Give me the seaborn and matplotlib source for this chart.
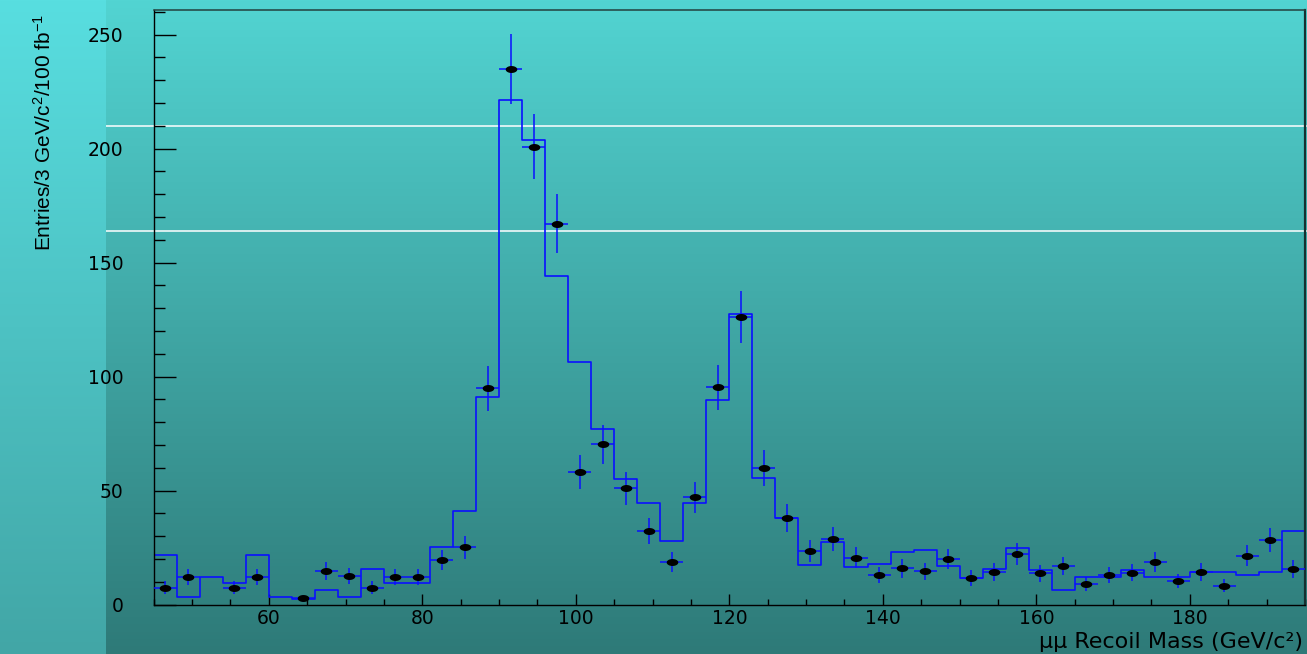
import numpy as np
import pandas as pd
import matplotlib
matplotlib.use("Agg")
import matplotlib.pyplot as plt
from matplotlib.path import Path
from matplotlib.ticker import MultipleLocator
import seaborn as sns

# Binning: 3 GeV bins from 45 to 195 GeV
bin_edges = np.arange(45, 196, 3)
bin_centers = bin_edges[:-1] + 1.5

# Expected (simulated) recoil mass distribution, entries per bin
mc_entries = [
    21.6, 3.2, 12.3, 9.4, 21.6, 3.5, 2.7, 6.6, 3.2, 15.5,
    9.4, 9.4, 25.3, 41.0, 91.1, 221.3, 203.7, 144.0, 106.3, 76.9,
    55.3, 44.6, 27.8, 44.6, 89.6, 127.4, 55.6, 37.9, 17.4, 27.5,
    16.4, 17.7, 23.1, 23.8, 17.0, 11.6, 15.7, 24.7, 15.1, 6.6,
    12.3, 12.1, 15.1, 12.0, 12.0, 14.2, 14.2, 12.9, 14.2, 32.2,
]

# Pseudo-data entries per bin (empty bins are not drawn)
data_entries = [
    7.5, 12.3, None, 7.5, 12.3, None, 2.8, 14.8, 12.6, 7.5,
    12.3, 12.3, 19.5, 25.2, 94.9, 234.8, 200.9, 167.0, 58.2, 70.3,
    51.0, 32.3, 18.7, 47.1, 95.3, 126.2, 60.0, 38.2, 23.4, 28.7,
    20.6, 12.9, 15.9, 14.6, 20.0, 11.8, 14.3, 22.2, 13.9, 17.0,
    9.2, 12.9, 14.0, 18.7, 10.4, 14.3, 8.3, 21.4, 28.4, 15.5,
]

x_label = "μμ Recoil Mass (GeV/c²)"
y_label = "Entries/3 GeV/c$^{2}$/100 fb$^{-1}$"

data = np.array([np.nan if v is None else v for v in data_entries], dtype=float)
data_err = np.sqrt(data)
mc_df = pd.DataFrame({"mass": bin_centers, "entries": mc_entries})

plt.rcParams["mathtext.default"] = "regular"

W, H = 1307, 654
fig = plt.figure(figsize=(W / 100, H / 100), dpi=100)

# Pad background: vertical gradient with a lighter strip at the left
bg = fig.add_axes([0, 0, 1, 1], zorder=-1)
t = np.linspace(0, 1, H)[:, None]
top_main, bot_main = np.array([82, 212, 210]), np.array([46, 122, 120])
top_side, bot_side = np.array([88, 222, 224]), np.array([66, 166, 166])
main = (top_main + (bot_main - top_main) * t) / 255.0
side = (top_side + (bot_side - top_side) * t) / 255.0
img = np.repeat(main[:, None, :], W, axis=1)
img[:, :106, :] = side[:, None, :]
bg.imshow(img, aspect="auto", extent=[0, W, H, 0], interpolation="bilinear")
bg.hlines([125.5, 230.5], 106, W, color="white", lw=1.1)
bg.set_xlim(0, W)
bg.set_ylim(H, 0)
bg.axis("off")

ax_w, ax_h = 1305 - 153.7, 604.7 - 10.3
ax = fig.add_axes([153.7 / W, 1 - 604.7 / H, ax_w / W, ax_h / H])
ax.patch.set_alpha(0)

# Simulated histogram as a step outline
sns.histplot(data=mc_df, x="mass", weights="entries", bins=list(bin_edges),
             element="step", fill=False, color="#0a10ff", linewidth=1.2, ax=ax)

# Data points with Poisson error bars spanning the bin width
ax.errorbar(bin_centers, data, yerr=data_err, xerr=1.5, fmt="none",
            ecolor="#0a10ff", elinewidth=1.1, capsize=0, zorder=3)
theta = np.linspace(0, 2 * np.pi, 41)
ellipse = Path(np.column_stack([np.cos(theta), 0.6 * np.sin(theta)]))
sns.scatterplot(x=bin_centers, y=data, marker=ellipse, s=70, color="black",
                linewidth=0, zorder=4, ax=ax)

ax.set_xlim(45, 195)
ax.set_ylim(0, 260.7)

ax.xaxis.set_major_locator(MultipleLocator(20))
ax.xaxis.set_minor_locator(MultipleLocator(5))
ax.yaxis.set_major_locator(MultipleLocator(50))
ax.yaxis.set_minor_locator(MultipleLocator(10))
ax.tick_params(axis="x", which="major", direction="in", length=8, width=1.0,
               pad=3, labelsize=13.5, top=False)
ax.tick_params(axis="x", which="minor", direction="in", length=4.3, width=1.0, top=False)
ax.tick_params(axis="y", which="major", direction="in", length=15.8, width=1.0,
               pad=22, labelsize=13.5, right=False)
ax.tick_params(axis="y", which="minor", direction="in", length=7.9, width=1.0, right=False)
for lab in ax.get_xticklabels() + ax.get_yticklabels():
    lab.set_fontfamily("DejaVu Sans")

for side_name in ("left", "bottom"):
    ax.spines[side_name].set_color("black")
    ax.spines[side_name].set_linewidth(1.0)
ax.spines["top"].set_color("#23403f")
ax.spines["top"].set_linewidth(1.1)
ax.spines["right"].set_color("#143030")
ax.spines["right"].set_linewidth(1.6)

ax.set_xlabel(x_label, loc="right", fontsize=16, family=["DejaVu Sans"])
ax.xaxis.label.set_verticalalignment("baseline")
ax.xaxis.set_label_coords((1303 - 153.7) / ax_w, (604.7 - 648) / ax_h)

ax.set_ylabel(y_label, loc="top", fontsize=15, family=["Liberation Sans", "DejaVu Sans"])
ax.yaxis.set_label_coords((55 - 153.7) / ax_w, (604.7 - 14) / ax_h)

fig.savefig("out.png", dpi=100)
